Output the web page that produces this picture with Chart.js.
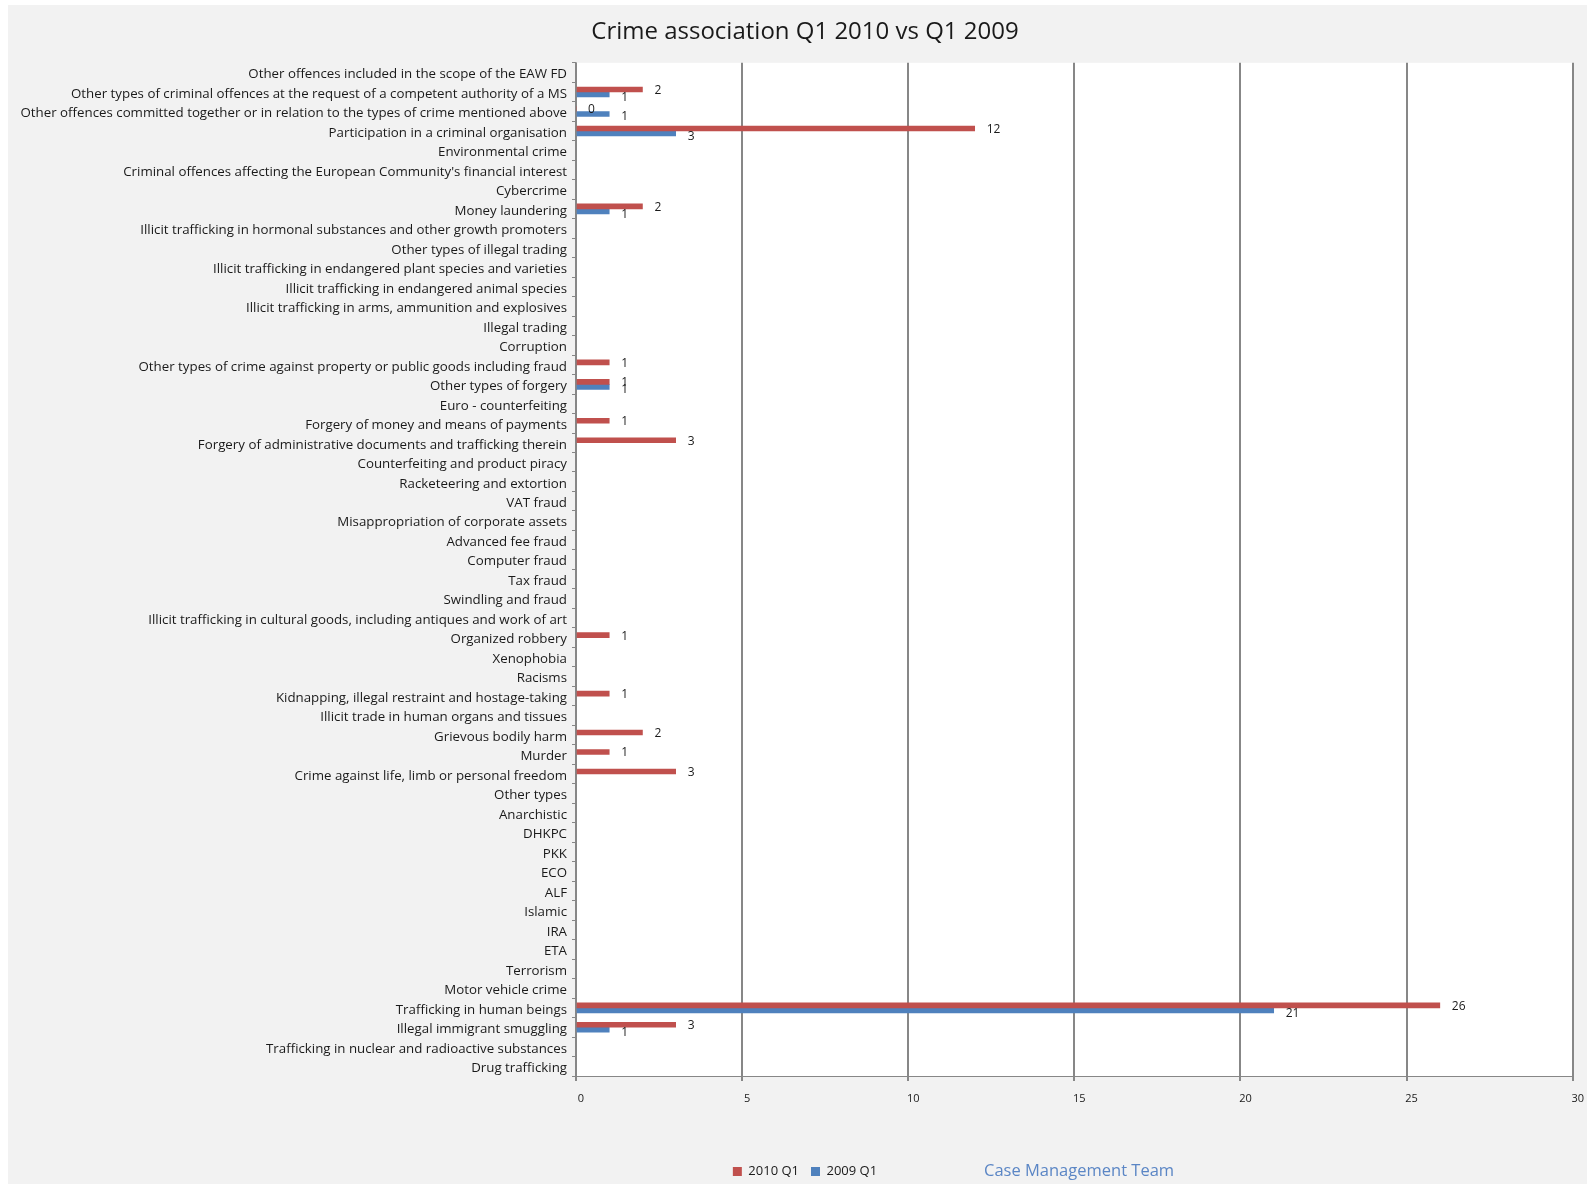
<!DOCTYPE html>
<html>
<head>
<meta charset="utf-8">
<script src="https://cdn.jsdelivr.net/npm/chart.js@4"></script>
<style>
  body { margin: 0; background: #fff; width: 1587px; height: 1185px; position: relative; overflow: hidden; }
  #panel { position: absolute; left: 8px; top: 5px; width: 1579px; height: 1179px; background: #f2f2f2; }
  #wrap { position: absolute; left: 8px; top: 5px; width: 1582px; height: 1183px; }
  #footer { position: absolute; left: 984px; top: 1158px; font-family: "Open Sans", sans-serif; font-size: 16.5px; color: #5b86c5; }
</style>
</head>
<body>
<div id="panel"></div>
<div id="wrap"><canvas id="crimeChart"></canvas></div>
<div id="footer">Case Management Team</div>
<script>
// categories, top to bottom as shown
const categories = [
  "Other offences included in the scope of the EAW FD",
  "Other types of criminal offences at the request of a competent authority of a MS",
  "Other offences committed together or in relation to the types of crime mentioned above",
  "Participation in a criminal organisation",
  "Environmental crime",
  "Criminal offences affecting the European Community's financial interest",
  "Cybercrime",
  "Money laundering",
  "Illicit trafficking in hormonal substances and other growth promoters",
  "Other types of illegal trading",
  "Illicit trafficking in endangered plant species and varieties",
  "Illicit trafficking in endangered animal species",
  "Illicit trafficking in arms, ammunition and explosives",
  "Illegal trading",
  "Corruption",
  "Other types of crime against property or public goods including fraud",
  "Other types of forgery",
  "Euro - counterfeiting",
  "Forgery of money and means of payments",
  "Forgery of administrative documents and trafficking therein",
  "Counterfeiting and product piracy",
  "Racketeering and extortion",
  "VAT fraud",
  "Misappropriation of corporate assets",
  "Advanced fee fraud",
  "Computer fraud",
  "Tax fraud",
  "Swindling and fraud",
  "Illicit trafficking in cultural goods, including antiques and work of art",
  "Organized robbery",
  "Xenophobia",
  "Racisms",
  "Kidnapping, illegal restraint and hostage-taking",
  "Illicit trade in human organs and tissues",
  "Grievous bodily harm",
  "Murder",
  "Crime against life, limb or personal freedom",
  "Other types",
  "Anarchistic",
  "DHKPC",
  "PKK",
  "ECO",
  "ALF",
  "Islamic",
  "IRA",
  "ETA",
  "Terrorism",
  "Motor vehicle crime",
  "Trafficking in human beings",
  "Illegal immigrant smuggling",
  "Trafficking in nuclear and radioactive substances",
  "Drug trafficking"
];

const q1_2010 = [
  null, 2, 0, 12, null, null, null, 2, null, null,
  null, null, null, null, null, 1, 1, null, 1, 3,
  null, null, null, null, null, null, null, null, null, 1,
  null, null, 1, null, 2, 1, 3, null, null, null,
  null, null, null, null, null, null, null, null, 26, 3,
  null, null
];

const q1_2009 = [
  null, 1, 1, 3, null, null, null, 1, null, null,
  null, null, null, null, null, null, 1, null, null, null,
  null, null, null, null, null, null, null, null, null, null,
  null, null, null, null, null, null, null, null, null, null,
  null, null, null, null, null, null, null, null, 21, 1,
  null, null
];

const xTicks = [0, 5, 10, 15, 20, 25, 30];

const FONT = "'Open Sans', sans-serif";

// white plot area
const plotBg = {
  id: 'plotBg',
  beforeDraw(chart) {
    const a = chart.chartArea;
    const ctx = chart.ctx;
    ctx.save();
    ctx.fillStyle = '#ffffff';
    ctx.fillRect(a.left, a.top, a.right - a.left, a.bottom - a.top);
    ctx.restore();
  }
};

// title and legend sit a bit right of the canvas centre in the original
const shiftBoxes = {
  id: 'shiftBoxes',
  afterLayout(chart) {
    [chart.titleBlock, chart.legend].forEach(b => {
      if (!b) return;
      b.left += 11;
      b.right += 11;
    });
  }
};

// value labels at the end of each bar
const barValues = {
  id: 'barValues',
  afterDatasetsDraw(chart) {
    const ctx = chart.ctx;
    ctx.save();
    ctx.font = '12px ' + FONT;
    ctx.fillStyle = '#1a1a1a';
    ctx.textBaseline = 'middle';
    ctx.textAlign = 'left';
    chart.data.datasets.forEach((ds, i) => {
      const meta = chart.getDatasetMeta(i);
      meta.data.forEach((bar, j) => {
        const v = ds.data[j];
        if (v === null || v === undefined) return;
        const dy = i === 0 ? 1 : 3;
        ctx.fillText(String(v), bar.x + 12, bar.y + dy);
      });
    });
    ctx.restore();
  }
};

const ctx = document.getElementById('crimeChart').getContext('2d');

new Chart(ctx, {
  type: 'bar',
  data: {
    labels: categories,
    datasets: [{
      label: '2010 Q1',
      data: q1_2010,
      backgroundColor: '#c0504d',
      barThickness: 5
    }, {
      label: '2009 Q1',
      data: q1_2009,
      backgroundColor: '#4f81bd',
      barThickness: 5
    }]
  },
  options: {
    indexAxis: 'y',
    responsive: true,
    maintainAspectRatio: false,
    animation: false,
    layout: { padding: { left: 0, right: 10, top: 0, bottom: 0 } },
    scales: {
      x: {
        min: 0,
        max: 30,
        afterBuildTicks: (scale) => { scale.ticks = xTicks.map(v => ({ value: v })); },
        afterFit: (scale) => { scale.height = 77; },
        grid: { color: '#878787', lineWidth: 2, tickLength: 5 },
        border: { color: '#878787', width: 1 },
        ticks: { font: { family: FONT, size: 11 }, color: '#1a1a1a', padding: 11, labelOffset: 5 }
      },
      y: {
        afterFit: (scale) => { scale.width = 568; },
        grid: { display: true, drawOnChartArea: false, color: '#878787', tickLength: 4, offset: true },
        border: { color: '#878787', width: 1.5 },
        ticks: { font: { family: FONT, size: 13.3 }, color: '#1a1a1a', padding: 5, autoSkip: false, labelOffset: 2 }
      }
    },
    plugins: {
      title: {
        display: true,
        text: 'Crime association Q1 2010 vs Q1 2009',
        font: { family: FONT, size: 24, weight: 'normal' },
        color: '#1a1a1a',
        padding: { top: 13, bottom: 16 }
      },
      legend: {
        display: true,
        position: 'bottom',
        labels: { font: { family: FONT, size: 13 }, color: '#1a1a1a', boxWidth: 9, boxHeight: 9, padding: 12 }
      },
      tooltip: { enabled: false }
    }
  },
  plugins: [plotBg, shiftBoxes, barValues]
});
</script>
</body>
</html>
